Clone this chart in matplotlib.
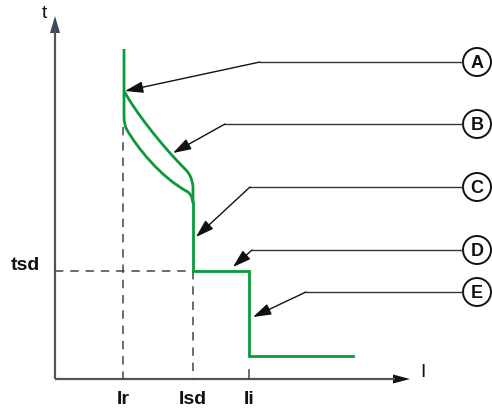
import matplotlib
matplotlib.use("Agg")
from matplotlib import pyplot as plt
from matplotlib.patches import Circle, PathPatch
from matplotlib.path import Path

plt.rcParams['font.family'] = ['Liberation Sans', 'DejaVu Sans']

# trip curve, picture coordinates (x right, y down); bezier control points
inner_pts = [(124, 50), (124, 118), (124, 126), (127, 131),
             (137, 148), (160, 178), (188, 193),
             (192, 196), (193, 204)]
inner_codes = [Path.MOVETO, Path.LINETO, Path.CURVE3, Path.CURVE3,
               Path.CURVE4, Path.CURVE4, Path.CURVE4,
               Path.CURVE3, Path.CURVE3]
outer_pts = [(124, 92), (135, 112), (160, 145), (186, 171),
             (192, 177), (193, 188), (193, 204)]
outer_codes = [Path.MOVETO, Path.CURVE4, Path.CURVE4, Path.CURVE4,
               Path.CURVE3, Path.CURVE3, Path.LINETO]
step_x = [193, 193, 249, 249, 353]
step_y = [204, 272, 272, 357, 357]

tick_x = {"Ir": 123, "Isd": 193, "Ii": 249}
tsd_y = 272
axis_x0, axis_y0 = 55, 380

labels = ["A", "B", "C", "D", "E"]
label_y = [63, 125, 188, 251, 293]
elbow_x = [260, 225, 250, 252, 306]
tip_x = [125, 173, 196, 233, 253]
tip_y = [92, 154, 238, 268, 318]
circle_x = 477

green = "#0a9a3a"
dash_col = "#444444"
ink = "#111111"

fig = plt.figure(figsize=(4.92, 4.10), dpi=100)
ax = fig.add_axes([0, 0, 1, 1])
ax.set_xlim(0, 492)
ax.set_ylim(410, 0)
ax.axis("off")

# axes with arrow heads
ax.plot([axis_x0, axis_x0], [axis_y0, 32], color="#555555", lw=1.6, solid_capstyle="butt")
ax.plot([axis_x0, 395], [axis_y0, axis_y0], color="#555555", lw=1.6, solid_capstyle="butt")
ax.fill([axis_x0 - 5, axis_x0 + 5, axis_x0], [34, 34, 17], color="#3d4a55", lw=0)
ax.fill([393, 393, 410], [axis_y0 - 4.5, axis_y0 + 4.5, axis_y0], color=ink, lw=0)
ax.text(44, 14, "t", fontsize=14, ha="center", va="center", color=ink)
ax.text(423, 373, "I", fontsize=14, ha="center", va="center", color=ink)

# dashed guides
ds = (0, (5.5, 4.5))
ax.plot([tick_x["Ir"], tick_x["Ir"]], [128, axis_y0], color=dash_col, lw=1.1, ls=ds)
ax.plot([tick_x["Isd"], tick_x["Isd"]], [tsd_y, axis_y0], color=dash_col, lw=1.1, ls=ds)
ax.plot([axis_x0, tick_x["Isd"]], [tsd_y, tsd_y], color=dash_col, lw=1.1, ls=ds)
ax.plot([tick_x["Ii"], tick_x["Ii"]], [axis_y0 - 9, axis_y0], color=dash_col, lw=1.1)

for name, x in tick_x.items():
    ax.text(x, 400, name, fontsize=14, fontweight="bold", ha="center", va="center", color=ink)
ax.text(25, 266, "tsd", fontsize=14, fontweight="bold", ha="center", va="center", color=ink)

# green curve
for pts, codes in [(inner_pts, inner_codes), (outer_pts, outer_codes)]:
    ax.add_patch(PathPatch(Path(pts, codes), facecolor="none", edgecolor=green,
                           lw=2.0, joinstyle="round", capstyle="butt"))
ax.plot(step_x, step_y, color=green, lw=2.0, solid_joinstyle="miter")

# callouts
for lab, ly, ex, tx, ty in zip(labels, label_y, elbow_x, tip_x, tip_y):
    ax.plot([circle_x - 14, ex], [ly, ly], color="#333333", lw=1.0)
    ax.annotate("", xy=(tx, ty), xytext=(ex, ly),
                arrowprops=dict(arrowstyle="-|>,head_length=1.1,head_width=0.35",
                                color=ink, lw=1.0, shrinkA=0, shrinkB=0,
                                mutation_scale=10))
    ax.add_patch(Circle((circle_x, ly), 14, facecolor="white", edgecolor=ink, lw=1.4))
    ax.text(circle_x, ly + 0.5, lab, fontsize=13, fontweight="bold", ha="center", va="center", color=ink)

fig.savefig("out.png", dpi=100)
